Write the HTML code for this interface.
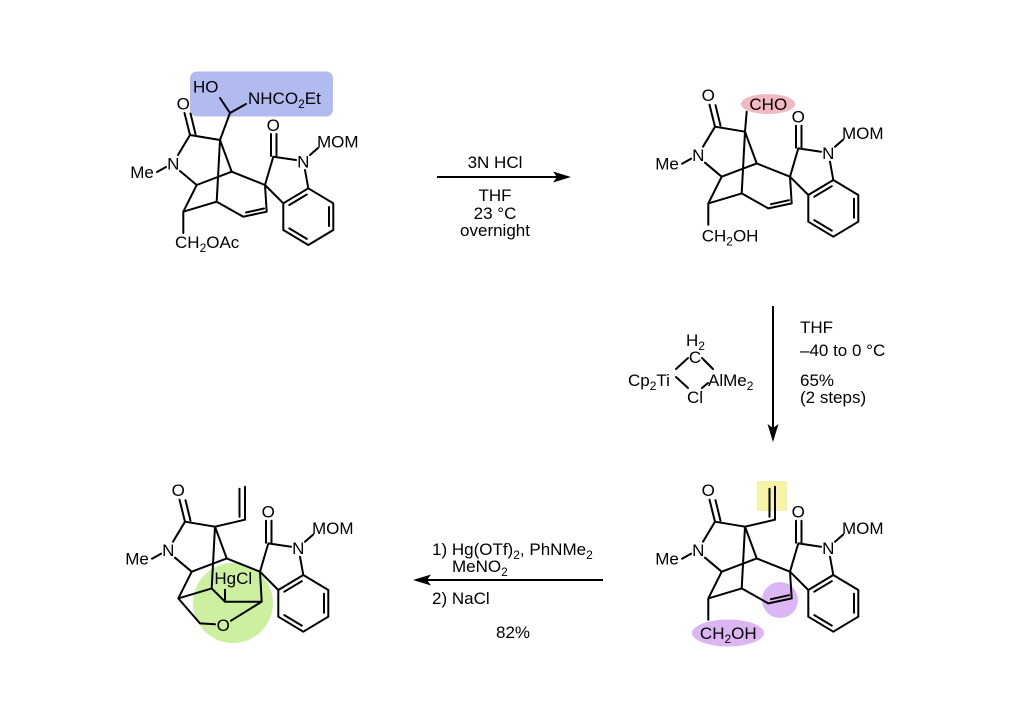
<!DOCTYPE html>
<html><head><meta charset="utf-8"><style>
html,body{margin:0;padding:0;background:#fff;}
svg{display:block;}
text{font-family:"Liberation Sans",sans-serif;font-size:17px;fill:#000;}
.b{stroke:#000;stroke-width:2;fill:none;stroke-linecap:round;stroke-linejoin:round;}
</style></head><body>
<svg width="1024" height="724" viewBox="0 0 1024 724" xmlns="http://www.w3.org/2000/svg">
<rect x="190" y="71.5" width="143" height="45" rx="7" fill="#b2bbf0"/>
<ellipse cx="768" cy="104" rx="27" ry="10" fill="#f3b9c2"/>
<rect x="757" y="481" width="30" height="30" fill="#f6f3a6"/>
<circle cx="780" cy="600" r="18" fill="#dcb6f2"/>
<ellipse cx="728" cy="633" rx="36" ry="13.5" fill="#dcb6f2"/>
<circle cx="233" cy="603" r="40" fill="#cdf0a0"/>

<g transform="translate(0,0)">
<path class="b" d="M190,135L220,140 M190,135L184.5,113 M195.5,134L190.5,113.5 M190,135L178,155 M180,171L196.7,185 M157,172L166,167 M220,140L216.7,201.7 M220,140L231.7,171.7 M196.7,185L231.7,171.7 M231.7,171.7L265,185 M196.7,185L183.3,211.7 M183.3,211.7L216.7,201.7 M265,185L273.3,156.7 M271,156L271,134 M276.5,156.7L276.5,134 M273.3,156.7L296,160 M310,155L318,148 M305,170L308.3,188.3 M265,185L283.3,203.3 M283.3,203.3L308.3,188.3L333.3,203.3L333.3,230L308.3,245L283.3,230Z M289.3,205L306.8,194.5 M329,207L329,226 M306.8,238.9L289.3,228.4
M183.3,211.7L183.3,233 M216.7,201.7L243.3,216.7 M243.3,216.7L266.7,211.7 M246,212.5L264,208.5 M266.7,211.7L265,185
M220,140L230,113 M230,113L220,98 M230,113L246,104"/>
<text x="183.3" y="109.5" text-anchor="middle">O</text>
<text x="173.3" y="169.5" text-anchor="middle">N</text>
<text x="142" y="178" text-anchor="middle">Me</text>
<text x="273.3" y="131" text-anchor="middle">O</text>
<text x="303.3" y="167.5" text-anchor="middle">N</text>
<text x="317" y="147.5">MOM</text>
<text x="193" y="92.5">HO</text>
<text x="248" y="104">NHCO<tspan dy="4" font-size="12">2</tspan><tspan dy="-4">Et</tspan></text>
<text x="175" y="248">CH<tspan dy="4" font-size="12">2</tspan><tspan dy="-4">OAc</tspan></text>
</g>

<g transform="translate(525,-8.3)">
<path class="b" d="M190,135L220,140 M190,135L184.5,113 M195.5,134L190.5,113.5 M190,135L178,155 M180,171L196.7,185 M157,172L166,167 M220,140L216.7,201.7 M220,140L231.7,171.7 M196.7,185L231.7,171.7 M231.7,171.7L265,185 M196.7,185L183.3,211.7 M183.3,211.7L216.7,201.7 M265,185L273.3,156.7 M271,156L271,134 M276.5,156.7L276.5,134 M273.3,156.7L296,160 M310,155L318,148 M305,170L308.3,188.3 M265,185L283.3,203.3 M283.3,203.3L308.3,188.3L333.3,203.3L333.3,230L308.3,245L283.3,230Z M289.3,205L306.8,194.5 M329,207L329,226 M306.8,238.9L289.3,228.4
M183.3,211.7L183.3,233 M216.7,201.7L243.3,216.7 M243.3,216.7L266.7,211.7 M246,212.5L264,208.5 M266.7,211.7L265,185
M220,140L221.7,120"/>
<text x="183.3" y="109.5" text-anchor="middle">O</text>
<text x="173.3" y="169.5" text-anchor="middle">N</text>
<text x="142" y="178" text-anchor="middle">Me</text>
<text x="273.3" y="131" text-anchor="middle">O</text>
<text x="303.3" y="167.5" text-anchor="middle">N</text>
<text x="317" y="147.5">MOM</text>
<text x="243.3" y="118.3" text-anchor="middle">CHO</text>
<text x="176.7" y="250">CH<tspan dy="4" font-size="12">2</tspan><tspan dy="-4">OH</tspan></text>
</g>

<g transform="translate(525,386.7)">
<path class="b" d="M190,135L220,140 M190,135L184.5,113 M195.5,134L190.5,113.5 M190,135L178,155 M180,171L196.7,185 M157,172L166,167 M220,140L216.7,201.7 M220,140L231.7,171.7 M196.7,185L231.7,171.7 M231.7,171.7L265,185 M196.7,185L183.3,211.7 M183.3,211.7L216.7,201.7 M265,185L273.3,156.7 M271,156L271,134 M276.5,156.7L276.5,134 M273.3,156.7L296,160 M310,155L318,148 M305,170L308.3,188.3 M265,185L283.3,203.3 M283.3,203.3L308.3,188.3L333.3,203.3L333.3,230L308.3,245L283.3,230Z M289.3,205L306.8,194.5 M329,207L329,226 M306.8,238.9L289.3,228.4
M183.3,211.7L183.3,233 M216.7,201.7L243.3,216.7 M243.3,216.7L266.7,211.7 M246,212.5L264,208.5 M266.7,211.7L265,185
M220,140L250,133 M250,133L250,100 M244.5,130L244.5,102"/>
<text x="183.3" y="109.5" text-anchor="middle">O</text>
<text x="173.3" y="169.5" text-anchor="middle">N</text>
<text x="142" y="178" text-anchor="middle">Me</text>
<text x="273.3" y="131" text-anchor="middle">O</text>
<text x="303.3" y="167.5" text-anchor="middle">N</text>
<text x="317" y="147.5">MOM</text>
<text x="203.3" y="252.5" text-anchor="middle">CH<tspan dy="4" font-size="12">2</tspan><tspan dy="-4">OH</tspan></text>
</g>

<g transform="translate(-5,386.7)">
<path class="b" d="M190,135L220,140 M190,135L184.5,113 M195.5,134L190.5,113.5 M190,135L178,155 M180,171L196.7,185 M157,172L166,167 M220,140L216.7,201.7 M220,140L231.7,171.7 M196.7,185L231.7,171.7 M231.7,171.7L265,185 M196.7,185L183.3,211.7 M183.3,211.7L216.7,201.7 M265,185L273.3,156.7 M271,156L271,134 M276.5,156.7L276.5,134 M273.3,156.7L296,160 M310,155L318,148 M305,170L308.3,188.3 M265,185L283.3,203.3 M283.3,203.3L308.3,188.3L333.3,203.3L333.3,230L308.3,245L283.3,230Z M289.3,205L306.8,194.5 M329,207L329,226 M306.8,238.9L289.3,228.4
M183.3,211.7L205,236.7L220,237.5 M216.7,201.7L230,215L266.7,215 M266.7,215L265,185 M266.7,215L236,234 M230,215L230,203
M220,140L250,133 M250,133L250,100 M244.5,130L244.5,102"/>
<text x="183.3" y="109.5" text-anchor="middle">O</text>
<text x="173.3" y="169.5" text-anchor="middle">N</text>
<text x="142" y="178" text-anchor="middle">Me</text>
<text x="273.3" y="131" text-anchor="middle">O</text>
<text x="303.3" y="167.5" text-anchor="middle">N</text>
<text x="317" y="147.5">MOM</text>
<text x="238.3" y="197.5" text-anchor="middle">HgCl</text>
<text x="228.3" y="244.5" text-anchor="middle">O</text>
</g>

<line x1="437" y1="177" x2="560" y2="177" stroke="#000" stroke-width="2"/>
<polygon points="571,177 553,171.5 557,177 553,182.5" fill="#000"/>
<text x="495" y="168" text-anchor="middle">3N HCl</text>
<text x="495" y="201" text-anchor="middle">THF</text>
<text x="495" y="219" text-anchor="middle">23 °C</text>
<text x="495" y="236" text-anchor="middle">overnight</text>

<line x1="773" y1="306" x2="773" y2="430" stroke="#000" stroke-width="2"/>
<polygon points="773,442 767.5,424 773,428 778.5,424" fill="#000"/>
<text x="800" y="333">THF</text>
<text x="800" y="356">–40 to 0 °C</text>
<text x="800" y="386">65%</text>
<text x="800" y="403">(2 steps)</text>
<text x="686" y="346">H<tspan dy="4" font-size="12">2</tspan></text>
<text x="695" y="363" text-anchor="middle">C</text>
<text x="628" y="386">Cp<tspan dy="4" font-size="12">2</tspan><tspan dy="-4">Ti</tspan></text>
<text x="708" y="386">AlMe<tspan dy="4" font-size="12">2</tspan></text>
<text x="695" y="403" text-anchor="middle">Cl</text>
<path class="b" d="M676,369L688,358 M702,358L713,369 M676,377L688,388 M702,388L708,383" stroke-width="1.5"/>

<line x1="603" y1="580" x2="426" y2="580" stroke="#000" stroke-width="2"/>
<polygon points="413,580 431,574.5 427,580 431,585.5" fill="#000"/>
<text x="432" y="555">1) Hg(OTf)<tspan dy="4" font-size="12">2</tspan><tspan dy="-4">, PhNMe</tspan><tspan dy="4" font-size="12">2</tspan></text>
<text x="452" y="572">MeNO<tspan dy="4" font-size="12">2</tspan></text>
<text x="432" y="604">2) NaCl</text>
<text x="513" y="638" text-anchor="middle">82%</text>
</svg>
</body></html>
